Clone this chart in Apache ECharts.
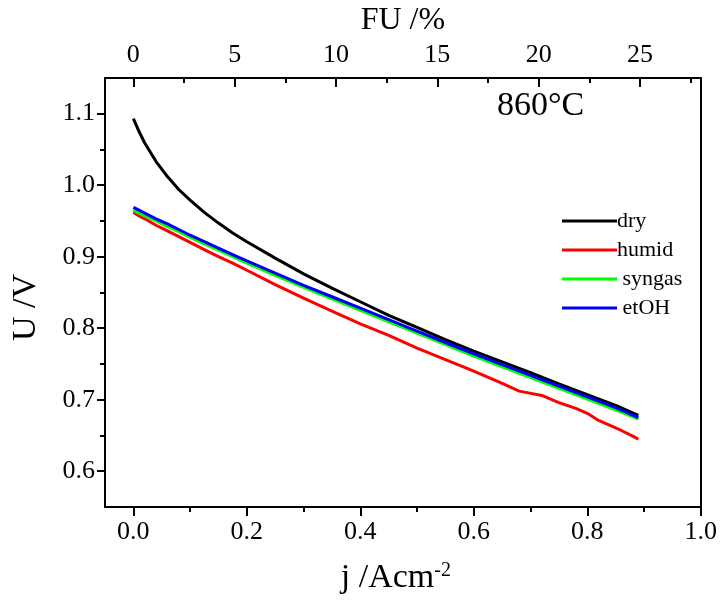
<!DOCTYPE html>
<html>
<head>
<meta charset="utf-8">
<script src="https://cdn.jsdelivr.net/npm/echarts@6/dist/echarts.min.js"></script>
<style>html,body{margin:0;padding:0;background:#fff}#c{width:720px;height:600px}</style>
</head>
<body>
<div id="c"></div>
<script>
// ---- data ----
const seriesNames = ['dry', 'humid', 'syngas', 'etOH'];
const jDry = [0, 0.01, 0.02, 0.04, 0.06, 0.08, 0.10, 0.125, 0.15, 0.175, 0.20, 0.25, 0.30, 0.35, 0.40, 0.45, 0.50, 0.55, 0.60, 0.65, 0.70, 0.75, 0.80, 0.85, 0.89];
const uDry = [1.093, 1.075, 1.059, 1.033, 1.012, 0.994, 0.979, 0.962, 0.947, 0.933, 0.921, 0.898, 0.876, 0.856, 0.837, 0.818, 0.801, 0.784, 0.768, 0.753, 0.738, 0.722, 0.707, 0.692, 0.678];
const jHumid = [0, 0.01, 0.02, 0.04, 0.06, 0.08, 0.10, 0.125, 0.15, 0.175, 0.20, 0.25, 0.30, 0.35, 0.40, 0.45, 0.50, 0.55, 0.60, 0.65, 0.68, 0.72, 0.75, 0.78, 0.80, 0.82, 0.84, 0.86, 0.88, 0.89];
const uHumid = [0.962, 0.957, 0.953, 0.944, 0.936, 0.928, 0.920, 0.910, 0.900, 0.891, 0.881, 0.861, 0.842, 0.824, 0.806, 0.790, 0.772, 0.756, 0.740, 0.723, 0.712, 0.706, 0.696, 0.688, 0.681, 0.671, 0.664, 0.657, 0.649, 0.645];
const jSyngas = [0, 0.01, 0.02, 0.04, 0.06, 0.08, 0.10, 0.125, 0.15, 0.175, 0.20, 0.25, 0.30, 0.35, 0.40, 0.45, 0.50, 0.55, 0.60, 0.65, 0.70, 0.75, 0.80, 0.85, 0.89];
const uSyngas = [0.965, 0.961, 0.957, 0.950, 0.942, 0.935, 0.927, 0.918, 0.909, 0.900, 0.891, 0.874, 0.857, 0.841, 0.825, 0.809, 0.793, 0.777, 0.761, 0.746, 0.731, 0.716, 0.701, 0.686, 0.673];
const jEtOH = [0, 0.01, 0.02, 0.04, 0.06, 0.08, 0.10, 0.125, 0.15, 0.175, 0.20, 0.25, 0.30, 0.35, 0.40, 0.45, 0.50, 0.55, 0.60, 0.65, 0.70, 0.75, 0.80, 0.85, 0.89];
const uEtOH = [0.969, 0.965, 0.961, 0.953, 0.946, 0.938, 0.930, 0.921, 0.912, 0.903, 0.894, 0.877, 0.860, 0.844, 0.828, 0.812, 0.796, 0.780, 0.764, 0.749, 0.734, 0.719, 0.704, 0.689, 0.675];
const seriesColors = ['#000000', '#ff0000', '#00ff00', '#0000ff'];

const jTicks = [0, 0.2, 0.4, 0.6, 0.8, 1.0];
const jMinor = [0.1, 0.3, 0.5, 0.7, 0.9];
const fuTicks = [0, 5, 10, 15, 20, 25];
const fuMinor = [2.5, 7.5, 12.5, 17.5, 22.5, 27.5];
const uTicks = [0.6, 0.7, 0.8, 0.9, 1.0, 1.1];
const uMinor = [0.65, 0.75, 0.85, 0.95, 1.05];

const FONT = '"Liberation Serif", "Times New Roman", serif';
const pair = (xs, ys) => xs.map((x, i) => [x, ys[i]]);
const allData = [pair(jDry, uDry), pair(jHumid, uHumid), pair(jSyngas, uSyngas), pair(jEtOH, uEtOH)];

const lineStyle = { color: '#000', width: 2 };
const noLine = { show: false, onZero: false };

const chart = echarts.init(document.getElementById('c'));
chart.setOption({
  animation: false,
  backgroundColor: '#fff',
  grid: { left: 105, right: 18, top: 73, bottom: 87, containLabel: false },
  xAxis: [
    { type: 'value', position: 'bottom', min: -0.05, max: 1.0,
      name: 'j /Acm{sup|-2}', nameLocation: 'middle', nameGap: 54,
      nameTextStyle: { fontFamily: FONT, fontSize: 34, color: '#000', padding: [0, 14, 0, 0],
        rich: { sup: { fontFamily: FONT, fontSize: 20, color: '#000', verticalAlign: 'top', lineHeight: 22 } } },
      axisLine: { show: true, onZero: false, lineStyle },
      axisTick: { show: true, inside: false, length: 9, lineStyle, customValues: jTicks },
      axisLabel: { show: true, margin: 12, fontFamily: FONT, fontSize: 26, color: '#000',
        customValues: jTicks, formatter: v => v.toFixed(1) },
      splitLine: { show: false } },
    { type: 'value', position: 'top', min: -1.4, max: 28,
      name: 'FU /%', nameLocation: 'middle', nameGap: 36,
      nameTextStyle: { fontFamily: FONT, fontSize: 32, color: '#000' },
      axisLine: { show: true, onZero: false, lineStyle },
      axisTick: { show: true, inside: true, length: 9, lineStyle, customValues: fuTicks },
      axisLabel: { show: true, margin: 10, fontFamily: FONT, fontSize: 26, color: '#000',
        customValues: fuTicks, formatter: v => String(v) },
      splitLine: { show: false } },
    { type: 'value', position: 'top', min: -1.4, max: 28,
      axisLine: noLine,
      axisTick: { show: true, inside: true, length: 5, lineStyle, customValues: fuMinor },
      axisLabel: { show: false }, splitLine: { show: false } },
    { type: 'value', position: 'bottom', min: -0.05, max: 1.0,
      axisLine: noLine,
      axisTick: { show: true, inside: false, length: 5, lineStyle, customValues: jMinor },
      axisLabel: { show: false }, splitLine: { show: false } }
  ],
  yAxis: [
    { type: 'value', position: 'left', min: 0.55, max: 1.15,
      name: 'U /V', nameLocation: 'middle', nameGap: 62, nameRotate: 90,
      nameTextStyle: { fontFamily: FONT, fontSize: 34, color: '#000', padding: [0, 30, 0, 0] },
      axisLine: { show: true, onZero: false, lineStyle },
      axisTick: { show: true, inside: false, length: 8, lineStyle, customValues: uTicks },
      axisLabel: { show: true, margin: 10, fontFamily: FONT, fontSize: 26, color: '#000',
        customValues: uTicks, formatter: v => v.toFixed(1) },
      splitLine: { show: false } },
    { type: 'value', position: 'left', min: 0.55, max: 1.15,
      axisLine: noLine,
      axisTick: { show: true, inside: false, length: 5, lineStyle, customValues: uMinor },
      axisLabel: { show: false }, splitLine: { show: false } },
    { type: 'value', position: 'right', min: 0.55, max: 1.15,
      axisLine: { show: true, onZero: false, lineStyle },
      axisTick: { show: false }, axisLabel: { show: false }, splitLine: { show: false } }
  ],
  legend: {
    orient: 'vertical', left: 557, top: 205, itemGap: 7,
    itemWidth: 55, itemHeight: 3, icon: 'rect',
    data: seriesNames,
    formatter: n => (n === 'syngas' || n === 'etOH') ? ' ' + n : n,
    textStyle: { fontFamily: FONT, fontSize: 22, color: '#000', lineHeight: 22, padding: [0, 0, 0, -5] }
  },
  graphic: [
    { type: 'text', left: 497, top: 89,
      style: { text: '860°C', font: '34px "Liberation Serif", serif', fill: '#000' } }
  ],
  series: seriesNames.map((n, i) => ({
    name: n, type: 'line', xAxisIndex: 0, yAxisIndex: 0,
    data: allData[i], showSymbol: false, symbol: 'none', smooth: false,
    lineStyle: { color: seriesColors[i], width: 3 }, itemStyle: { color: seriesColors[i] }
  }))
});
</script>
</body>
</html>
